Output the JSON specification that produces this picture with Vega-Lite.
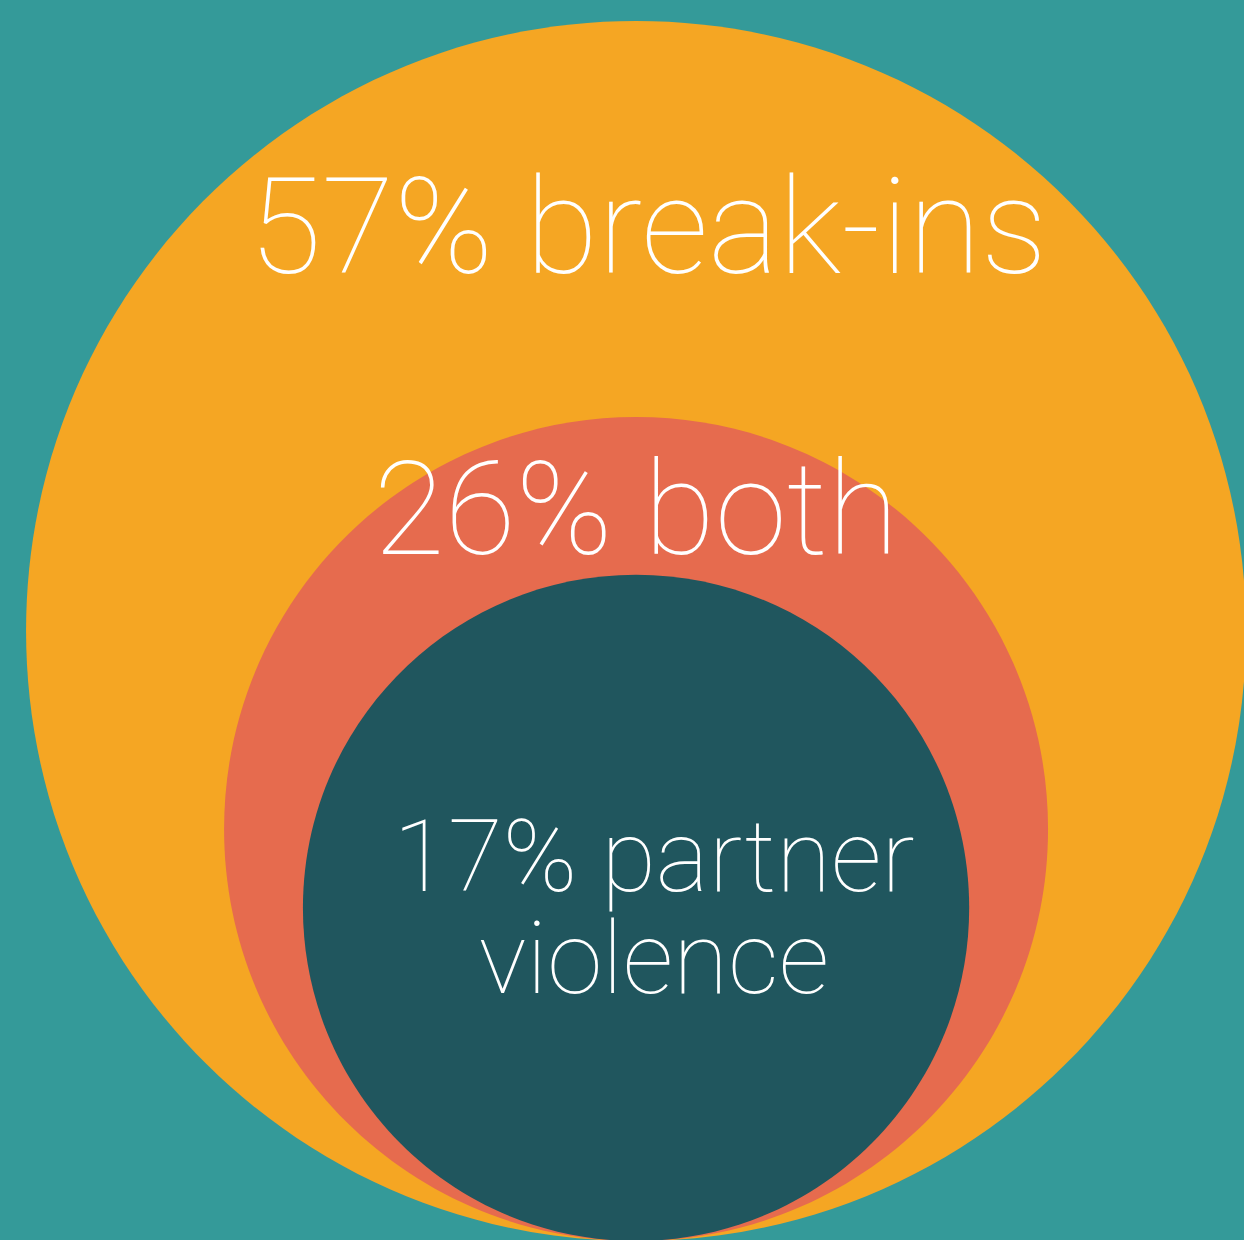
{
  "$schema": "https://vega.github.io/schema/vega-lite/v6.json",
  "width": 1244,
  "height": 1240,
  "padding": 0,
  "autosize": {"type": "none"},
  "background": "#349a99",
  "config": {"view": {"stroke": null}},
  "data": {"values": [
    {"group": "break-ins", "value": 57, "label": "57% break-ins"},
    {"group": "both", "value": 26, "label": "26% both"},
    {"group": "partner violence", "value": 17, "label": ["17% partner", "violence"]}
  ]},
  "layer": [
    {
      "mark": {"type": "point", "filled": true, "opacity": 1, "strokeWidth": 0,
        "shape": "M 0 0 A 1 1 0 1 1 0 -2 A 1 1 0 1 1 0 0 Z"},
      "encoding": {
        "x": {"datum": 51.13, "type": "quantitative", "scale": {"domain": [0, 100], "range": [0, 1244]}, "axis": null},
        "y": {"datum": 0, "type": "quantitative", "scale": {"domain": [0, 100], "range": [1241, 1]}, "axis": null},
        "size": {"field": "value", "type": "quantitative", "scale": {"domain": [0, 57], "range": [0, 1488400], "zero": true}, "legend": null},
        "color": {"field": "group", "type": "nominal", "scale": {"domain": ["break-ins", "both", "partner violence"], "range": ["#f5a623", "#e66b4e", "#20565e"]}, "legend": null},
        "order": {"field": "value", "sort": "descending"}
      }
    },
    {
      "transform": [{"filter": "datum.group === 'break-ins'"}],
      "mark": {"type": "text", "font": "Roboto", "fontWeight": 100, "fontSize": 133, "align": "center", "baseline": "alphabetic", "color": "white"},
      "encoding": {
        "x": {"datum": 52.09, "type": "quantitative"},
        "y": {"datum": 78.06, "type": "quantitative"},
        "text": {"field": "label"}
      }
    },
    {
      "transform": [{"filter": "datum.group === 'both'"}],
      "mark": {"type": "text", "font": "Roboto", "fontWeight": 100, "fontSize": 130, "align": "center", "baseline": "alphabetic", "color": "white"},
      "encoding": {
        "x": {"datum": 51.13, "type": "quantitative"},
        "y": {"datum": 55.4, "type": "quantitative"},
        "text": {"field": "label"}
      }
    },
    {
      "transform": [{"filter": "datum.group === 'partner violence'"}],
      "mark": {"type": "text", "font": "Roboto", "fontWeight": 100, "fontSize": 100, "lineHeight": 102, "align": "center", "baseline": "alphabetic", "color": "white"},
      "encoding": {
        "x": {"datum": 52.57, "type": "quantitative"},
        "y": {"datum": 28.23, "type": "quantitative"},
        "text": {"field": "label"}
      }
    }
  ]
}
